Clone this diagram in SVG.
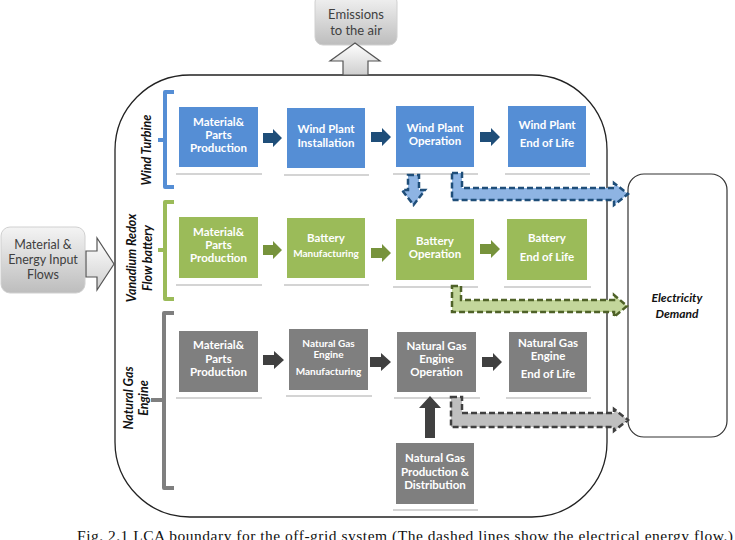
<svg xmlns="http://www.w3.org/2000/svg" width="735" height="540" viewBox="0 0 735 540">
<defs>
<linearGradient id="gbox" x1="0" y1="0" x2="0" y2="1"><stop offset="0" stop-color="#f4f4f4"/><stop offset="1" stop-color="#bdbdbd"/></linearGradient>
<linearGradient id="garr" x1="0" y1="0" x2="0" y2="1"><stop offset="0" stop-color="#ffffff"/><stop offset="1" stop-color="#cfcfcf"/></linearGradient>
<style>
.bt{font-family:Lato,"Liberation Sans",sans-serif;font-weight:bold;font-size:11.5px;fill:#fff;text-anchor:middle}
.sm{font-size:10px}
.lab{font-family:Lato,"Liberation Sans",sans-serif;font-weight:bold;font-style:italic;font-size:12.5px;fill:#111;text-anchor:middle}
.gt{font-family:Lato,"Liberation Sans",sans-serif;font-size:12.5px;fill:#404040;text-anchor:middle}
.blue{fill:#558ED5}
.green{fill:#9BBB59}
.grey{fill:#7F7F7F}
.sh{stroke:#d4d4d4;stroke-width:2;fill:none}
.ab{fill:#1F4E79}
.ag{fill:#77933C}
.ak{fill:#404040}
.dash{stroke-width:2.5;stroke-dasharray:6 3}
.br{fill:none;stroke-width:4;stroke-linejoin:round}
</style>
</defs>
<rect width="735" height="540" fill="#fff"/>

<!-- system boundary -->
<rect id="boundary" x="115" y="75" width="492" height="442" rx="75" fill="none" stroke="#222" stroke-width="1.3"/>

<g id="emissions">
<rect x="315" y="-6" width="82" height="51" rx="8" fill="url(#gbox)" stroke="#d0d0d0"/>
<text class="gt" x="356" y="19" style="font-size:13px">Emissions</text>
<text class="gt" x="356" y="35" style="font-size:13px">to the air</text>
</g>
<g id="input">
<rect x="1" y="227" width="84" height="66" rx="9" fill="url(#gbox)" stroke="#d0d0d0"/>
<text class="gt" x="43" y="249">Material &amp;</text>
<text class="gt" x="43" y="264">Energy Input</text>
<text class="gt" x="43" y="279">Flows</text>
</g>
<g id="demand">
<rect x="628" y="174" width="99" height="263" rx="16" fill="#fff" stroke="#333" stroke-width="1.2"/>
<text class="lab" x="677" y="302" style="font-size:12px">Electricity</text>
<text class="lab" x="677" y="318" style="font-size:12px">Demand</text>
</g>

<!-- group labels and braces -->
<g id="wind-label">
<text class="lab" transform="translate(151,150) rotate(-90)">Wind Turbine</text>
<path class="br" stroke="#558ED5" d="M174,92 H165 V187 H174 M165,140 H158"/>
</g>
<g id="battery-label">
<text class="lab" transform="translate(136,258) rotate(-90)">Vanadium Redox</text>
<text class="lab" transform="translate(152,258) rotate(-90)">Flow battery</text>
<path class="br" stroke="#9BBB59" d="M174,202 H165 V299 H174 M165,250 H158"/>
</g>
<g id="gas-label">
<text class="lab" transform="translate(133,398) rotate(-90)">Natural Gas</text>
<text class="lab" transform="translate(148,398) rotate(-90)">Engine</text>
<path class="br" stroke="#7F7F7F" d="M174,313 H164 V488 H174 M164,400 H151"/>
</g>

<!-- Row 1 -->
<g id="w1"><rect class="blue" x="179" y="107" width="79" height="60"/><path class="sh" d="M176,174 H262"/>
<text class="bt" x="218.5" y="126">Material&amp;</text><text class="bt" x="218.5" y="139">Parts</text><text class="bt" x="218.5" y="152">Production</text></g>
<g id="w2"><rect class="blue" x="287" y="108" width="78" height="60"/><path class="sh" d="M284,175 H369"/>
<text class="bt" x="326" y="133">Wind Plant</text><text class="bt" x="326" y="147">Installation</text></g>
<g id="w3"><rect class="blue" x="396" y="106" width="78" height="61"/><path class="sh" d="M393,174 H478"/>
<text class="bt" x="435" y="132">Wind Plant</text><text class="bt" x="435" y="145">Operation</text></g>
<g id="w4"><rect class="blue" x="508" y="106" width="78" height="61"/><path class="sh" d="M505,174 H590"/>
<text class="bt" x="547" y="129">Wind Plant</text><text class="bt" x="547" y="147">End of Life</text></g>

<!-- Row 2 -->
<g id="b1"><rect class="green" x="179" y="217" width="79" height="61"/><path class="sh" d="M176,285 H262"/>
<text class="bt" x="218.5" y="236">Material&amp;</text><text class="bt" x="218.5" y="249">Parts</text><text class="bt" x="218.5" y="262">Production</text></g>
<g id="b2"><rect class="green" x="287" y="218" width="78" height="60"/><path class="sh" d="M284,285 H369"/>
<text class="bt" x="326" y="242">Battery</text><text class="bt sm" x="326" y="257">Manufacturing</text></g>
<g id="b3"><rect class="green" x="396" y="219" width="78" height="61"/><path class="sh" d="M393,287 H478"/>
<text class="bt" x="435" y="245">Battery</text><text class="bt" x="435" y="258">Operation</text></g>
<g id="b4"><rect class="green" x="507" y="219" width="80" height="61"/><path class="sh" d="M504,287 H591"/>
<text class="bt" x="547" y="242">Battery</text><text class="bt" x="547" y="261">End of Life</text></g>

<!-- Row 3 -->
<g id="g1"><rect class="grey" x="179" y="331" width="79" height="61"/><path class="sh" d="M176,398 H262"/>
<text class="bt" x="218.5" y="349">Material&amp;</text><text class="bt" x="218.5" y="363">Parts</text><text class="bt" x="218.5" y="376">Production</text></g>
<g id="g2"><rect class="grey" x="289" y="329" width="79" height="61"/><path class="sh" d="M286,396 H372"/>
<text class="bt sm" x="328.5" y="346.5">Natural Gas</text><text class="bt sm" x="328.5" y="357.5">Engine</text><text class="bt sm" x="328.5" y="374.5">Manufacturing</text></g>
<g id="g3"><rect class="grey" x="397" y="332" width="79" height="60"/><path class="sh" d="M394,398 H480"/>
<text class="bt" x="436.5" y="350">Natural Gas</text><text class="bt" x="436.5" y="363">Engine</text><text class="bt" x="436.5" y="376">Operation</text></g>
<g id="g4"><rect class="grey" x="509" y="332" width="78" height="60"/><path class="sh" d="M506,398 H591"/>
<text class="bt" x="548" y="347">Natural Gas</text><text class="bt" x="548" y="360">Engine</text><text class="bt" x="548" y="378">End of Life</text></g>
<g id="g5"><rect class="grey" x="396" y="443" width="78" height="61"/><path class="sh" d="M393,510 H478"/>
<text class="bt" x="435" y="462">Natural Gas</text><text class="bt" x="435" y="475.5">Production &amp;</text><text class="bt" x="435" y="488.5">Distribution</text></g>

<!-- connectors -->
<g id="connectors">
<path fill="url(#garr)" stroke="#555" stroke-width="1.2" d="M343,75 V61 H330 L355,43 L380,61 H368 V75 Z"/>
<path fill="url(#garr)" stroke="#555" stroke-width="1.2" d="M86,251 H97 V238 L114,264 L97,290 V277 H86 Z"/>

<path class="ab" d="M263,133 H273 V129 L282,138 L273,147 V143 H263 Z"/>
<path class="ab" d="M371,132 H382 V128 L391,137 L382,146 V142 H371 Z"/>
<path class="ab" d="M480,132 H491 V128 L500,137 L491,146 V142 H480 Z"/>

<path class="ag" d="M263,245 H273 V241 L282,250 L273,259 V255 H263 Z"/>
<path class="ag" d="M371,248 H382 V244 L391,253 L382,262 V258 H371 Z"/>
<path class="ag" d="M480,244 H491 V240 L500,249 L491,258 V254 H480 Z"/>

<path class="ak" d="M263,355 H274 V351 L284,360 L274,369 V365 H263 Z"/>
<path class="ak" d="M370,357 H381 V353 L391,362 L381,371 V367 H370 Z"/>
<path class="ak" d="M482,357 H493 V353 L502,362 L493,371 V367 H482 Z"/>
<path class="ak" d="M425,438 V408 H419 L430,396 L441,408 H435 V438 Z"/>

<path class="dash" fill="#8EB4E3" stroke="#1F4E79" d="M408,175 H419 V190 H425 L413.5,205 L402,190 H408 Z"/>
<path class="dash" fill="#8EB4E3" stroke="#1F4E79" d="M452,173 H462 V188 H614 V183 L628,194 L614,205 V200 H452 Z"/>
<path class="dash" fill="#C3D69B" stroke="#4F6228" d="M452,286 H461 V300 H614 V295 L627,306 L614,317 V312 H452 Z"/>
<path class="dash" fill="#BFBFBF" stroke="#404040" d="M451,397 H462 V413 H614 V409 L628,420 L614,431 V427 H451 Z"/>
</g>

<text x="77" y="541" font-family="'Liberation Serif',serif" font-size="15.5" fill="#111" textLength="656">Fig. 2.1 LCA boundary for the off-grid system (The dashed lines show the electrical energy flow.)</text>
</svg>
